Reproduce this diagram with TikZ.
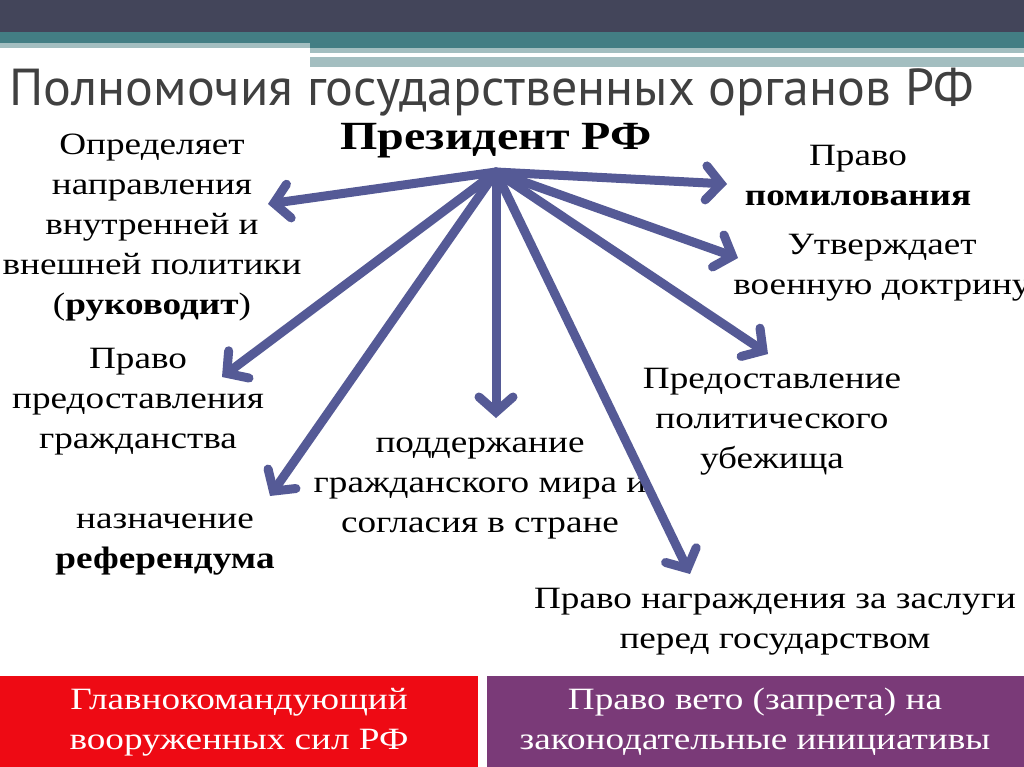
\documentclass[tikz,border=0pt]{standalone}
\usepackage{fontspec}
\setmainfont{Liberation Serif}[FakeStretch=1.2]
\newfontfamily\titlefont{PT Sans}
\usetikzlibrary{arrows.meta}
\definecolor{darkbar}{HTML}{43455A}
\definecolor{tealbar}{HTML}{437E84}
\definecolor{lightbar}{HTML}{A3BEC0}
\definecolor{arr}{HTML}{555A96}
\definecolor{redbox}{HTML}{EE0A14}
\definecolor{purplebox}{HTML}{7A3A78}
\begin{document}
\begin{tikzpicture}[x=1pt,y=-1pt,
  txt/.style={align=center,font=\fontsize{31}{40}\selectfont,inner sep=0pt},
  pw/.style={arr,line width=9pt,line cap=round,-{Straight Barb[length=15pt,width=34pt,line cap=round]}}]
\useasboundingbox (0,0) rectangle (1024,767);
\fill[white] (0,0) rectangle (1024,767);
\fill[darkbar] (0,0) rectangle (1024,32);
\fill[tealbar] (0,32) rectangle (1024,48);
\fill[lightbar] (0,43) rectangle (310,48);
\fill[lightbar] (310,48) rectangle (1024,53);
\fill[lightbar] (310,57) rectangle (1024,67);
\fill[white] (420,67) rectangle (1024,70);
\node[anchor=west,font=\titlefont\fontsize{52}{60}\selectfont,text=black!75] (title) at (6,92) {Полномочия государственных органов РФ};
\node[font=\bfseries\fontsize{40}{44}\selectfont] (pres) at (496,141) {Президент РФ};
\coordinate (hub) at (496,172);
\node[txt] (t1) at (152,228) {Определяет\\направления\\внутренней и\\внешней политики\\(\textbf{руководит})};
\node[txt] (t2) at (138,402) {Право\\предоставления\\гражданства};
\node[txt] (t3) at (165,545) {назначение\\\textbf{референдума}};
\node[txt] (t4) at (480,488) {поддержание\\гражданского мира и\\согласия в стране};
\node[txt] (t5) at (858,176) {Право\\\textbf{помилования}};
\node[txt] (t6) at (882,268) {Утверждает\\военную доктрину};
\node[txt] (t7) at (772,422) {Предоставление\\политического\\убежища};
\node[txt] (t8) at (775,622) {Право награждения за заслуги\\перед государством};
\coordinate (e1) at (268,204);
\coordinate (e2) at (222,377);
\coordinate (e3) at (270,496);
\coordinate (e4) at (496,418);
\coordinate (e5) at (727,184);
\coordinate (e6) at (738,258);
\coordinate (e7) at (768,354);
\coordinate (e8) at (690,574);
\foreach \e in {e1,e2,e3,e4,e5,e6,e7,e8} \draw[pw] (hub) -- (\e);
\fill[redbox] (0,676) rectangle (478,767);
\fill[purplebox] (487,676) rectangle (1024,767);
\node[txt,text=white] (b1) at (239,722) {Главнокомандующий\\вооруженных сил РФ};
\node[txt,text=white] (b2) at (755,722) {Право вето (запрета) на\\законодательные инициативы};
\end{tikzpicture}
\end{document}
